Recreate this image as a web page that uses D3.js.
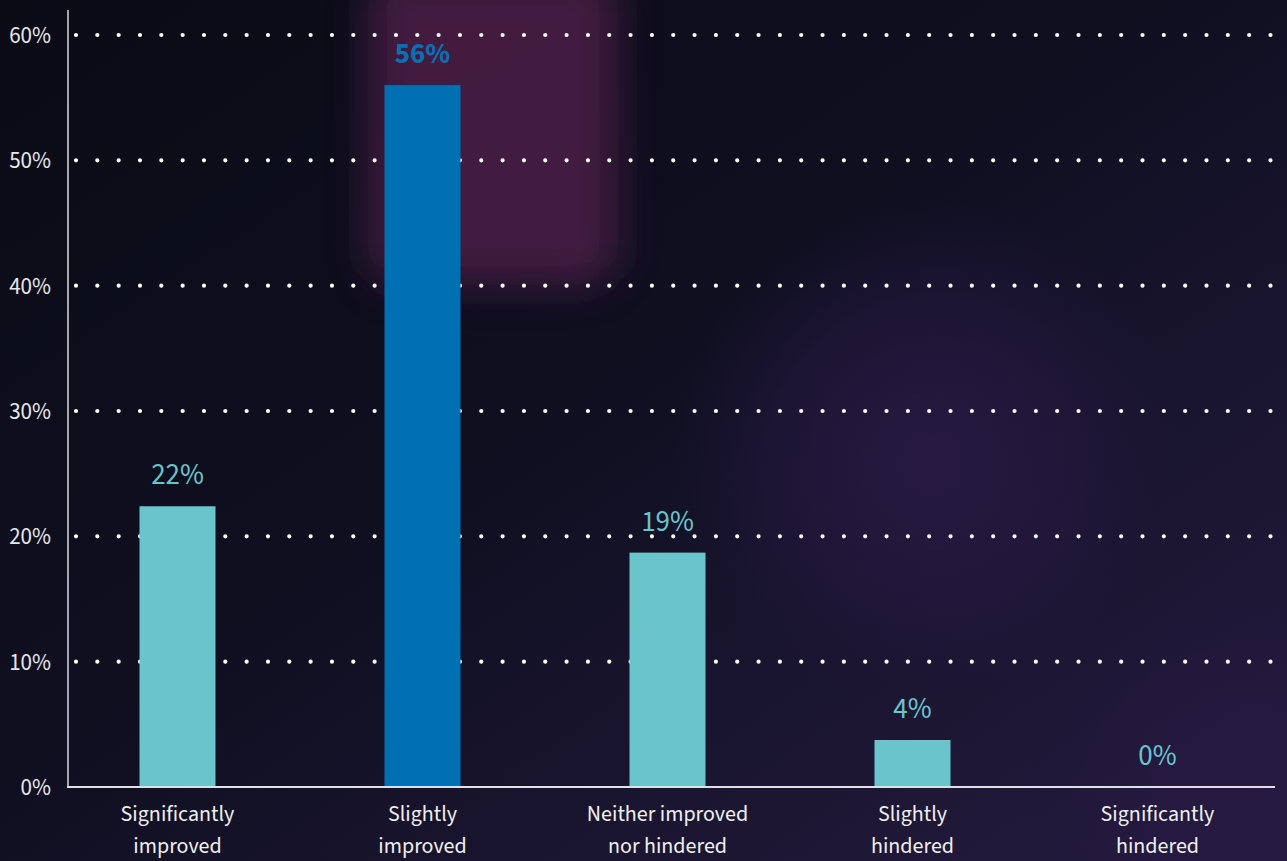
<!DOCTYPE html>
<html>
<head>
<meta charset="utf-8">
<script src="https://cdn.jsdelivr.net/npm/d3@7/dist/d3.min.js"></script>
<style>
  html, body { margin: 0; padding: 0; background: #0b0c17; }
  svg { display: block; }
  text { font-family: "Source Sans Pro", "Source Sans 3", Lato, "Noto Sans", sans-serif; }
</style>
</head>
<body>
<svg id="chart" width="1287" height="861"></svg>
<script>
// ---- data ----
const categories = [
  ["Significantly", "improved"],
  ["Slightly", "improved"],
  ["Neither improved", "nor hindered"],
  ["Slightly", "hindered"],
  ["Significantly", "hindered"]
];
const values = [22.4, 56.0, 18.7, 3.75, 0];
const valueLabels = ["22%", "56%", "19%", "4%", "0%"];
const highlightIndex = 1;
const yTicks = [0, 10, 20, 30, 40, 50, 60];
const yTickLabels = ["0%", "10%", "20%", "30%", "40%", "50%", "60%"];

// ---- layout ----
const W = 1287, H = 861;
const svg = d3.select("#chart");
const defs = svg.append("defs");

const bg = defs.append("linearGradient").attr("id", "bg")
  .attr("x1", "0").attr("y1", "0").attr("x2", "1").attr("y2", "1");
bg.append("stop").attr("offset", "0").attr("stop-color", "#0a0b15");
bg.append("stop").attr("offset", "0.45").attr("stop-color", "#0f0f20");
bg.append("stop").attr("offset", "1").attr("stop-color", "#251b40");

const rg = defs.append("radialGradient").attr("id", "glow2")
  .attr("cx", "0.5").attr("cy", "0.5").attr("r", "0.5");
rg.append("stop").attr("offset", "0").attr("stop-color", "#2a1a45").attr("stop-opacity", 0.9);
rg.append("stop").attr("offset", "0.6").attr("stop-color", "#251840").attr("stop-opacity", 0.55);
rg.append("stop").attr("offset", "1").attr("stop-color", "#1c1535").attr("stop-opacity", 0);

defs.append("filter").attr("id", "blur1").attr("x", "-50%").attr("y", "-50%").attr("width", "200%").attr("height", "200%")
  .append("feGaussianBlur").attr("stdDeviation", 20);

svg.append("rect").attr("width", W).attr("height", H).attr("fill", "url(#bg)");
// soft glows
svg.append("ellipse").attr("cx", 930).attr("cy", 460).attr("rx", 260).attr("ry", 260)
  .attr("fill", "url(#glow2)");
svg.append("ellipse").attr("cx", 1240).attr("cy", 780).attr("rx", 220).attr("ry", 200)
  .attr("fill", "url(#glow2)").attr("opacity", 0.7);
svg.append("rect").attr("x", 368).attr("y", -30).attr("width", 250).attr("height", 315).attr("rx", 34)
  .attr("fill", "#451e42").attr("opacity", 0.95).attr("filter", "url(#blur1)");

const y = d3.scaleLinear().domain([0, 60]).range([787, 35]);
const x = d3.scaleBand().domain(d3.range(categories.length)).range([55, 1280]).padding(0);
const barW = 76;

// gridlines (dotted)
svg.append("g").selectAll("line").data(yTicks.filter(t => t > 0)).join("line")
  .attr("x1", 76).attr("x2", 1281)
  .attr("y1", d => y(d)).attr("y2", d => y(d))
  .attr("stroke", "#ffffff").attr("stroke-width", 4.2)
  .attr("stroke-linecap", "round").attr("stroke-dasharray", "0 21.33");

// y tick labels
svg.append("g").selectAll("text").data(yTicks).join("text")
  .attr("x", 51).attr("y", d => y(d)).attr("dy", "0.35em")
  .attr("text-anchor", "end").attr("fill", "#e8e8ec")
  .attr("font-size", 23).text((d, i) => yTickLabels[i]);

// bars
svg.append("g").selectAll("rect").data(values).join("rect")
  .attr("x", (d, i) => x(i) + x.bandwidth() / 2 - barW / 2)
  .attr("width", barW)
  .attr("y", d => y(d))
  .attr("height", d => y(0) - y(d))
  .attr("fill", (d, i) => i === highlightIndex ? "#0070b2" : "#6ac4cc");

// value labels
svg.append("g").selectAll("text").data(values).join("text")
  .attr("x", (d, i) => x(i) + x.bandwidth() / 2)
  .attr("y", d => y(d) - 22)
  .attr("text-anchor", "middle")
  .attr("font-size", 29)
  .attr("font-weight", (d, i) => i === highlightIndex ? 700 : 400)
  .attr("fill", (d, i) => i === highlightIndex ? "#0a6fb0" : "#6ac4cc")
  .text((d, i) => valueLabels[i]);

// axes lines
svg.append("line").attr("x1", 68).attr("x2", 68).attr("y1", 10).attr("y2", 787)
  .attr("stroke", "#d8d8dc").attr("stroke-width", 1.5);
svg.append("line").attr("x1", 67).attr("x2", 1275).attr("y1", 787).attr("y2", 787)
  .attr("stroke", "#e0e0e4").attr("stroke-width", 2);

// category labels (one text per line)
const lines = categories.flatMap((c, i) => c.map((s, j) => ({ s, i, j })));
svg.append("g").selectAll("text").data(lines).join("text")
  .attr("text-anchor", "middle").attr("fill", "#f0f0f2").attr("font-size", 22)
  .attr("x", d => x(d.i) + x.bandwidth() / 2)
  .attr("y", d => 821 + d.j * 32)
  .text(d => d.s);
</script>
</body>
</html>
